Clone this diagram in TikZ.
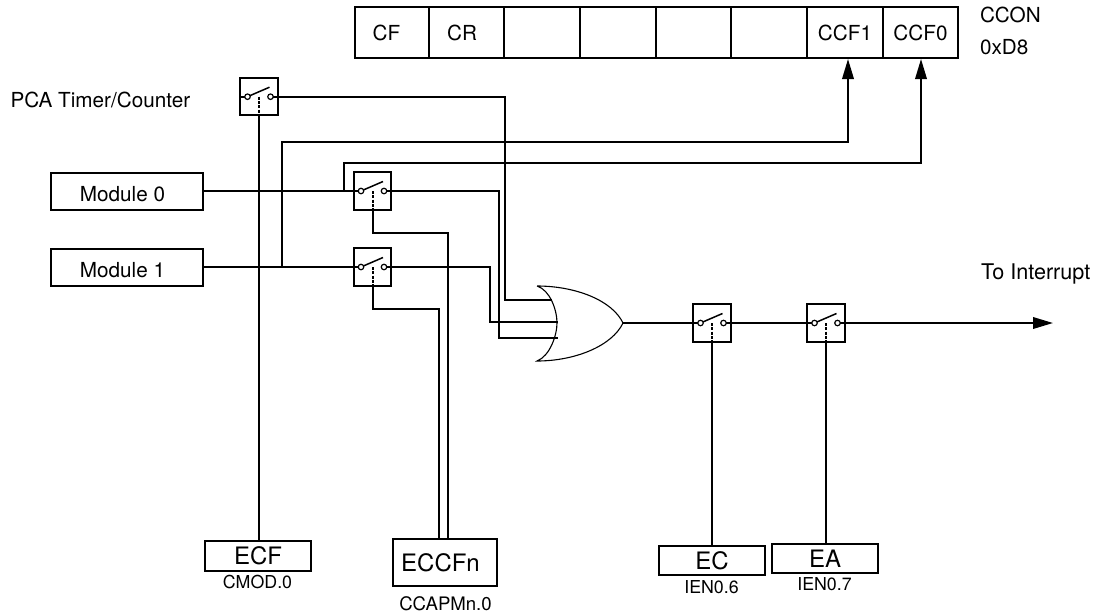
\documentclass[tikz,border=0pt]{standalone}
\usepackage{fontspec}
\setmainfont{TeX Gyre Heros}
\usetikzlibrary{arrows.meta}
\tikzset{
  x=1pt,y=-1pt,
  wire/.style={line width=2pt,line join=miter},
  arrowwire/.style={wire,-{Triangle[length=20pt,width=11.5pt]}},
  boxn/.style={draw,line width=2pt,inner sep=0pt,outer sep=0pt,font=\fontsize{20.7}{24}\selectfont},
  cell/.style={boxn,minimum height=51pt,text depth=0pt},
  modbox/.style={boxn,minimum width=152pt,minimum height=37pt,text height=20pt,text depth=0pt},
  bigbox/.style={boxn,font=\fontsize{24}{26}\selectfont},
  lab/.style={inner sep=0pt,outer sep=0pt,font=\fontsize{17.8}{20}\selectfont},
  biglab/.style={lab,font=\fontsize{20.7}{24}\selectfont},
  swbox/.style={draw,line width=2pt,minimum width=37.5pt,minimum height=37.5pt,inner sep=0pt,outer sep=0pt},
  pin/.style={draw,line width=1.2pt,fill=white,circle,minimum size=5.5pt,inner sep=0pt},
  lever/.style={line width=1.5pt},
  ctrl/.style={line width=2pt,dash pattern=on 3pt off 1.3pt},
  gateline/.style={line width=1.1pt},
}
\newcommand{\swt}[3]{%
  \node[swbox] (#1) at (#2,#3) {};
  \coordinate (#1-l) at ([xshift=-11.5pt]#1.center);
  \coordinate (#1-r) at ([xshift=11.5pt]#1.center);
  \coordinate (#1-t) at ([xshift=10.5pt,yshift=9.5pt]#1.center);
}
\newcommand{\swtop}[1]{%
  \draw[lever] (#1-l) -- (#1-t);
  \draw[ctrl] (#1.center) -- (#1.south);
  \node[pin] at (#1-l) {};
  \node[pin] at (#1-r) {};
}
\begin{document}
\begin{tikzpicture}
\useasboundingbox (0,0) rectangle (1094,614);
% register
\node[cell,minimum width=74.5pt] (cf) at (392,32.5) {\hspace*{-11pt}CF};
\node[cell,minimum width=75pt] (cr) at (466.5,32.5) {\hspace*{-9pt}CR};
\node[cell,minimum width=76pt] (r5) at (542,32.5) {};
\node[cell,minimum width=76pt] (r4) at (618,32.5) {};
\node[cell,minimum width=75pt] (r3) at (693.5,32.5) {};
\node[cell,minimum width=76pt] (r2) at (769,32.5) {};
\node[cell,minimum width=76pt] (ccfa) at (845,32.5) {CCF1};
\node[cell,minimum width=75pt] (ccfb) at (920.5,32.5) {CCF0};
\node[biglab,anchor=west] (ccon) at (980,15) {CCON};
\node[biglab,anchor=west] (addr) at (980,47) {0xD8};
\node[biglab,anchor=west] (pca) at (10.5,100) {PCA Timer/Counter};
\node[biglab,anchor=west,font=\fontsize{21.6}{24}\selectfont] (toint) at (981,274) {To Interrupt};
% modules
\node[modbox] (m0) at (127,191) {\hspace*{-9pt}Module 0};
\node[modbox] (m1) at (127,267) {\hspace*{-9pt}Module 1};
% switches
\swt{sa}{259}{96.7}
\swt{sb}{372.5}{191}
\swt{sc}{372.5}{267}
\swt{sd}{712}{323}
\swt{se}{826}{323}
% enable boxes
\node[bigbox,minimum width=106pt,minimum height=30pt] (ecf) at (258,556) {ECF};
\node[lab] (cmod) at (257.5,582) {CMOD.0};
\node[bigbox,minimum width=104pt,minimum height=47pt] (eccfn) at (445,562.5) {\hspace*{-9pt}ECCFn};
\node[lab,font=\fontsize{18.6}{20}\selectfont] (ccapm) at (445.5,604) {CCAPMn.0};
\node[bigbox,minimum width=106pt,minimum height=29pt] (ec) at (712,560.5) {EC};
\node[lab] (ien6) at (711.5,587) {IEN0.6};
\node[bigbox,minimum width=106pt,minimum height=29pt] (ea) at (825,558.5) {EA};
\node[lab] (ien7) at (824.5,584) {IEN0.7};
% OR gate
\coordinate (gt) at (537,286);
\coordinate (gb) at (537,361);
\coordinate (gi) at (557,323);
\coordinate (go) at (623,323);
\draw[gateline] (gt) .. controls (575,286) and (612,300) .. (go)
  .. controls (612,346) and (575,361) .. (gb)
  .. controls (550,356) and (557,335) .. (gi)
  .. controls (557,310) and (550,290) .. (gt);
\coordinate (ga) at (552,300);
\coordinate (gc) at (558,322);
\coordinate (gd) at (558,338);
% signal wires
\draw[wire] (sa-r) -| (505,300) -- (ga);
\draw[wire] (sb-r) -| (499,338) -- (gd);
\draw[wire] (sc-r) -| (490,322) -- (gc);
\draw[wire] (m0.east) -- (sb-l);
\draw[wire] (m1.east) -- (sc-l);
\draw[wire] (go) -- (sd-l);
\draw[wire] (sd-r) -- (se-l);
\draw[arrowwire] (se-r) -- (1053,323);
\draw[wire] (sa-l) -- (sa.west);
% status wires
\coordinate (ja) at (282,267);
\coordinate (jb) at (344,191);
\coordinate (tipa) at (848,59);
\coordinate (tipb) at (921,59);
\draw[arrowwire] (ja) |- (848,141.5) -- (tipa);
\draw[arrowwire] (jb) |- (921,163) -- (tipb);
% controls
\draw[wire] (sa.south) -- (sa.south |- ecf.north);
\draw[wire] (sb.south) |- (448,233) -- (448,539);
\draw[wire] (sc.south) |- (439,309) -- (439,539);
\draw[wire] (sd.south) -- (sd.south |- ec.north);
\draw[wire] (se.south) -- (se.south |- ea.north);
\swtop{sa}\swtop{sb}\swtop{sc}\swtop{sd}\swtop{se}
\end{tikzpicture}
\end{document}
